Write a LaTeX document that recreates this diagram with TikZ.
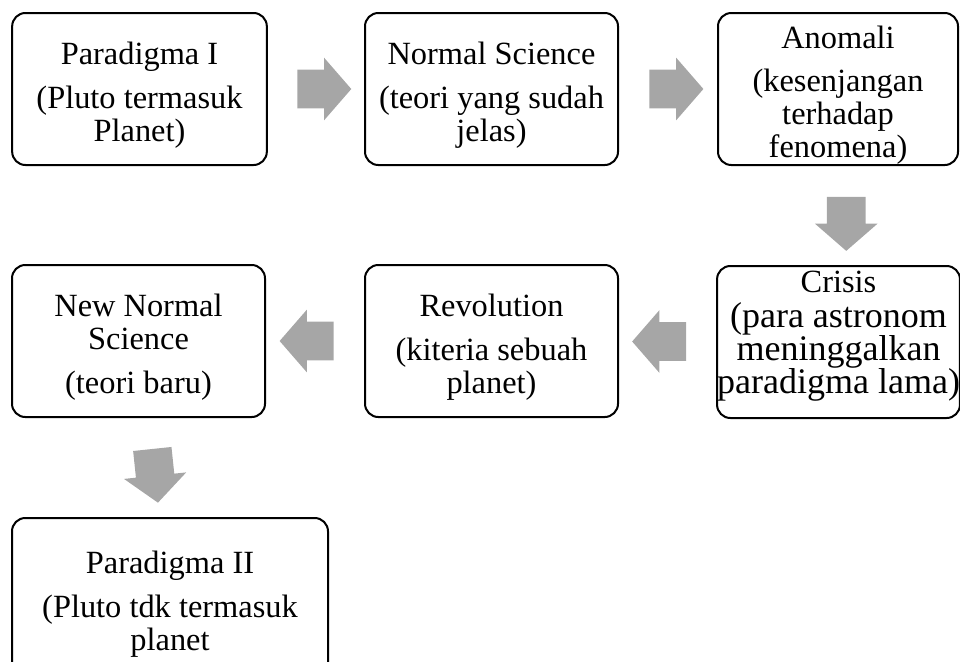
\documentclass[tikz,border=0pt]{standalone}
\usepackage{fontspec}
\setmainfont{Liberation Serif}
\usepackage{tikz}
\usetikzlibrary{calc,shapes.arrows}

\definecolor{arrowgray}{RGB}{166,166,166}
\newcommand{\bigpart}{\fontsize{27}{24.75}\selectfont}
\newcommand{\topstrut}{\rule{0pt}{26pt}}

\tikzset{
  stagebox/.style={draw, line width=1.5pt, rounded corners=10pt, align=center,
    inner sep=0pt, minimum height=114pt, minimum width=191pt,
    font=\fontsize{24.3}{24.75}\selectfont},
  flowarrow/.style={single arrow, fill=arrowgray, draw=none, inner xsep=0pt,
    inner ysep=14.25pt, minimum width=0pt, minimum height=40.5pt,
    single arrow head extend=9pt, single arrow tip angle=98,
    single arrow head indent=0pt}
}

\begin{document}
\begin{tikzpicture}[x=0.75pt,y=-0.75pt]
    \useasboundingbox (0,0) rectangle (960,661);
    \clip (0,0) rectangle (960,661);

    % top row
    \node[stagebox] (paraI) at (139.5,89)
        {\topstrut Paradigma I\\[8pt](Pluto termasuk\\Planet)};
    \node[stagebox, minimum width=189.75pt] (normsci) at (491.5,89)
        {\topstrut Normal Science\\[8pt](teori yang sudah\\jelas)};
    \node[stagebox, minimum width=180pt] (anomali) at (838,89)
        {\topstrut Anomali\\[8pt](kesenjangan\\terhadap\\fenomena)};

    % middle row
    \node[stagebox, minimum width=179.25pt] (crisis) at (838.5,342)
        {Crisis\\[1.5pt]\bigpart(para astronom\\\bigpart meninggalkan\\
         \bigpart paradigma lama)\rule[-14pt]{0pt}{0pt}};
    \node[stagebox, minimum width=189.75pt] (revol) at (491.5,341)
        {\topstrut Revolution\\[8pt](kiteria sebuah\\planet)};
    \node[stagebox, minimum width=189.75pt] (newnorm) at (138.5,341)
        {\topstrut New Normal\\Science\\[8pt](teori baru)};

    % bottom
    \node[stagebox, minimum width=237pt, minimum height=120pt] (paraII) at (170,598)
        {\topstrut Paradigma II\\[8pt](Pluto tdk termasuk\\planet};

    % arrows
    \node[flowarrow] (a1) at ($(paraI.east)!0.5!(normsci.west)$) {};
    \node[flowarrow] (a2) at ($(normsci.east)!0.5!(anomali.west)$) {};
    \node[flowarrow, shape border rotate=270, inner xsep=14.25pt, inner ysep=0pt,
        xshift=6pt] (a3) at ($(anomali.south)!0.5!(crisis.north)$) {};
    \node[flowarrow, shape border rotate=180] (a4)
        at ($(crisis.west)!0.5!(revol.east)$) {};
    \node[flowarrow, shape border rotate=180] (a5)
        at ($(revol.west)!0.5!(newnorm.east)$) {};
    \node[flowarrow, rotate=-84] (a6)
        at ($(newnorm.south)!0.5!(paraII.north)$) {};
\end{tikzpicture}
\end{document}
